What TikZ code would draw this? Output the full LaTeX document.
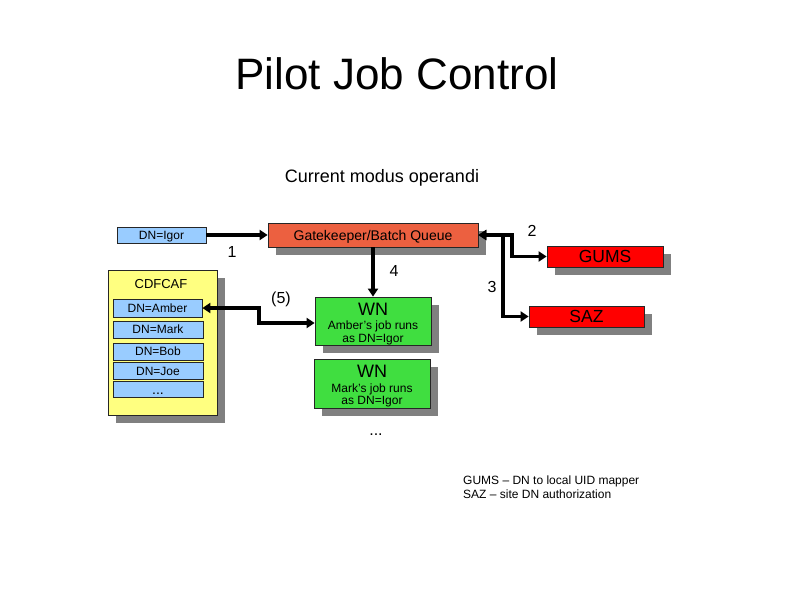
\documentclass[tikz,border=0pt]{standalone}
\usepackage{fontspec}
\setmainfont{Liberation Sans}
\usetikzlibrary{shadows,arrows.meta}
\definecolor{gkcol}{RGB}{236,96,64}
\definecolor{dnblue}{RGB}{153,204,255}
\definecolor{cyel}{RGB}{255,255,128}
\definecolor{wngreen}{RGB}{64,222,64}
\definecolor{shd}{RGB}{128,128,128}
\definecolor{redbox}{RGB}{255,0,0}
\tikzset{
  fsz/.style={font=\fontsize{#1}{#1}\selectfont},
  capsz/.style={font=\fontsize{#1}{#1}\selectfont,
     /utils/exec={\pgfmathsetmacro\capht{0.716*#1}},
     text height=\capht pt, text depth=0pt},
  box/.style={draw=black!85, line width=0.8pt, inner sep=0pt},
  shad/.style={general shadow={fill=shd, shadow xshift=8pt, shadow yshift=-8pt}},
  conn/.style={line width=3.6pt, -{Triangle[length=8pt,width=10pt]}},
  dconn/.style={line width=3.6pt, {Triangle[length=8pt,width=10pt]}-{Triangle[length=8pt,width=10pt]}},
  lbl/.style={capsz=16, inner sep=0pt},
  txt/.style={inner sep=0pt, anchor=base},
}
\begin{document}
\begin{tikzpicture}[x=1pt,y=-1pt]
\useasboundingbox[fill=white] (0,0) rectangle (794,595);

% titles
\node[txt, fsz=44] (title) at (397,89) {Pilot Job Control};
\node[txt, fsz=18] (sub) at (382,182) {Current modus operandi};

% gatekeeper and DN=Igor
\node[box, shad, fill=gkcol, minimum width=210pt, minimum height=24pt, capsz=14] (gk) at (373,235) {Gatekeeper/Batch Queue};
\node[box, fill=dnblue, minimum width=89pt, minimum height=16pt, capsz=12] (igor) at (161.5,235) {DN=Igor};

% CDFCAF block
\node[box, shad, fill=cyel, minimum width=109pt, minimum height=145pt] (caf) at (162.5,342.5) {};
\node[capsz=13, inner sep=0pt] (caft) at (161,284) {CDFCAF};
\node[box, fill=dnblue, minimum width=89pt, minimum height=18pt, capsz=12] (amber) at (157.5,308) {DN=Amber};
\node[box, fill=dnblue, minimum width=90pt, minimum height=17pt, capsz=12] (mark) at (158,329.5) {DN=Mark};
\node[box, fill=dnblue, minimum width=90pt, minimum height=17pt, capsz=12] (bob) at (158,351.5) {DN=Bob};
\node[box, fill=dnblue, minimum width=90pt, minimum height=17pt, capsz=12] (joe) at (158,371) {DN=Joe};
\node[box, fill=dnblue, minimum width=90pt, minimum height=16pt] (more) at (158,389.5) {};
\node[txt, fsz=14] (moret) at (158,394) {...};

% worker nodes
\node[box, shad, fill=wngreen, minimum width=116pt, minimum height=48pt] (wn1) at (373,321) {};
\node[txt, fsz=18] (wn1a) at (373,315) {WN};
\node[txt, fsz=12] (wn1b) at (373,329) {Amber's job runs};
\node[txt, fsz=12] (wn1c) at (373,342) {as DN=Igor};
\node[box, shad, fill=wngreen, minimum width=116pt, minimum height=49pt] (wn2) at (372,383.5) {};
\node[txt, fsz=18] (wn2a) at (372,377) {WN};
\node[txt, fsz=12] (wn2b) at (372,392) {Mark's job runs};
\node[txt, fsz=12] (wn2c) at (372,404) {as DN=Igor};
\node[txt, fsz=16] (wnmore) at (376,435) {...};

% GUMS and SAZ
\node[box, shad, fill=redbox, minimum width=116pt, minimum height=21pt, capsz=17.5] (gums) at (605,256.5) {GUMS};
\node[box, shad, fill=redbox, minimum width=115pt, minimum height=21pt, capsz=17.5] (saz) at (586.5,316.5) {SAZ};

% connectors
\draw[conn] (igor.east) -- (gk.west);
\draw[conn] (gk.south) -- (wn1.north);
\draw[dconn] (amber.east) -- (259,308) |- ([yshift=-2pt]wn1.west);
\draw[dconn] (gk.east) -- (512,235) |- (gums.west);
\draw[dconn] (gk.east) -- (503,235) |- (saz.west);

% labels
\node[lbl] (l1) at (232,252) {1};
\node[lbl] (l2) at (532,231) {2};
\node[lbl] (l3) at (492,287) {3};
\node[lbl] (l4) at (394,271) {4};
\node[lbl] (l5) at (281,298) {(5)};

% legend
\node[txt, anchor=base west, fsz=12] (leg1) at (463,484) {GUMS -- DN to local UID mapper};
\node[txt, anchor=base west, fsz=12] (leg2) at (463,498) {SAZ -- site DN authorization};
\end{tikzpicture}
\end{document}
